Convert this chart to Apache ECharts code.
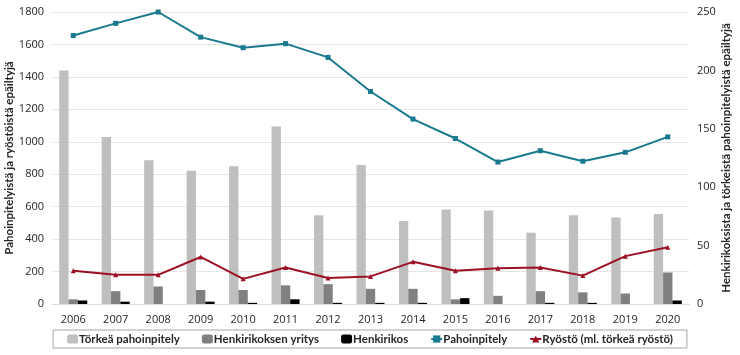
<!DOCTYPE html>
<html>
<head>
<meta charset="utf-8">
<script src="https://cdn.jsdelivr.net/npm/echarts@6/dist/echarts.min.js"></script>
<style>html,body{margin:0;padding:0;background:#fff;}#c{width:740px;height:355px;}</style>
</head>
<body>
<div id="c"></div>
<script>
const years = ['2006','2007','2008','2009','2010','2011','2012','2013','2014','2015','2016','2017','2018','2019','2020'];
const torkeaPahoinpitely = [200,143,123,114,118,152,76,119,71,81,80,61,76,74,77];
const henkirikoksenYritys = [4,11,15,12,12,16,17,13,13,4,7,11,10,9,27];
const henkirikos = [3,2,0,2,1,4,1,1,1,5,0,1,1,0,3];
const pahoinpitely = [1655,1730,1800,1645,1580,1605,1520,1310,1140,1020,875,945,880,935,1030];
const ryosto = [205,180,180,290,155,225,160,170,260,205,220,225,175,295,350];

const FONT = 'Open Sans';
const LFONT = 'Lato';
const chart = echarts.init(document.getElementById('c'), null, {renderer:'canvas'});
chart.setOption({
  animation:false,
  backgroundColor:'#fff',
  textStyle:{fontFamily:FONT},
  grid:{left:52,right:51,top:12,bottom:51,containLabel:false,outerBoundsMode:'none'},
  legend:{
    left:'center', top:330, height:19,
    padding:[3,14,3,14],
    borderColor:'#A6A6A6', borderWidth:1,
    itemGap:22, itemWidth:11, itemHeight:9,
    textStyle:{fontFamily:LFONT,fontSize:11.5,fontWeight:'bold',color:'#262626',padding:[0,0,0,-4]},
    data:['Törkeä pahoinpitely','Henkirikoksen yritys','Henkirikos',
      {name:'Pahoinpitely'},{name:'Ryöstö (ml. törkeä ryöstö)'}]
  },
  xAxis:{
    type:'category', data:years,
    axisLine:{lineStyle:{color:'#D9D9D9'}},
    axisTick:{show:false},
    axisLabel:{color:'#262626',fontSize:11,margin:10,fontFamily:FONT}
  },
  yAxis:[{
    type:'value', min:0, max:1800, interval:200,
    name:'Pahoinpitelyistä ja ryöstöistä epäiltyjä',
    nameLocation:'middle', nameGap:37, nameRotate:90, nameMoveOverlap:false,
    nameTextStyle:{fontSize:11.5,fontWeight:'bold',color:'#262626',fontFamily:LFONT},
    axisLine:{show:false}, axisTick:{show:false},
    axisLabel:{color:'#262626',fontSize:11,margin:8,fontFamily:FONT,formatter:v=>String(v)},
    splitLine:{lineStyle:{color:'#E6E6E6'}}
  },{
    type:'value', min:0, max:250, interval:50, position:'right',
    name:'Henkirikoksista ja törkeistä pahoinpitelyistä epäiltyjä',
    nameLocation:'middle', nameGap:31, nameRotate:90, nameMoveOverlap:false,
    nameTextStyle:{fontSize:11.5,fontWeight:'bold',color:'#262626',fontFamily:LFONT},
    axisLine:{show:false}, axisTick:{show:false},
    axisLabel:{color:'#262626',fontSize:11,margin:8,fontFamily:FONT,formatter:v=>String(v)},
    splitLine:{show:false}
  }],
  series:[
    {name:'Törkeä pahoinpitely',type:'bar',yAxisIndex:1,data:torkeaPahoinpitely,
     itemStyle:{color:'#BFBFBF'},barGap:'0%',barCategoryGap:'34%'},
    {name:'Henkirikoksen yritys',type:'bar',yAxisIndex:1,data:henkirikoksenYritys,
     itemStyle:{color:'#808080'},barGap:'0%',barCategoryGap:'34%'},
    {name:'Henkirikos',type:'bar',yAxisIndex:1,data:henkirikos,
     itemStyle:{color:'#000000'},barGap:'0%',barCategoryGap:'34%'},
    {name:'Pahoinpitely',type:'line',yAxisIndex:0,data:pahoinpitely,
     symbol:'rect',symbolSize:5,lineStyle:{color:'#197A8F',width:2},
     itemStyle:{color:'#197A8F'}},
    {name:'Ryöstö (ml. törkeä ryöstö)',type:'line',yAxisIndex:0,data:ryosto,
     symbol:'triangle',symbolSize:5,lineStyle:{color:'#9C1023',width:2},
     itemStyle:{color:'#9C1023'}}
  ]
});
</script>
</body>
</html>
